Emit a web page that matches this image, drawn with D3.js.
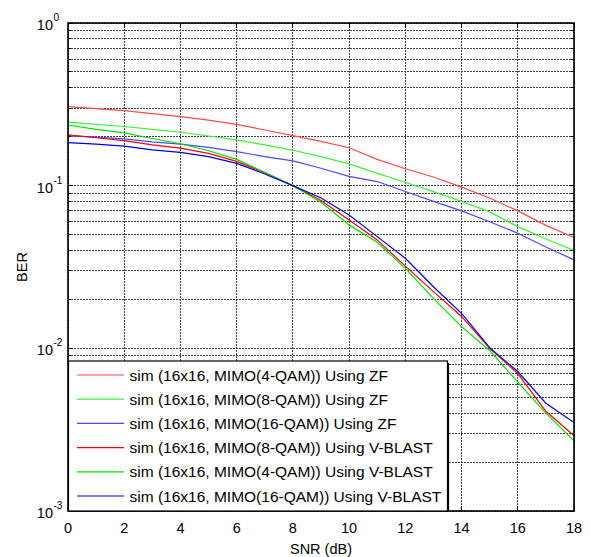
<!DOCTYPE html>
<html>
<head>
<meta charset="utf-8">
<script src="https://cdn.jsdelivr.net/npm/d3@7"></script>
<style>
  html, body { margin: 0; padding: 0; background: #fff; }
  svg { display: block; font-family: Arial, "Liberation Sans", Helvetica, sans-serif; }
</style>
</head>
<body>
<svg id="chart" width="590" height="557"></svg>
<script>
// ---------- data ----------
const snr = [0,1,2,3,4,5,6,7,8,9,10,11,12,13,14,15,16,17,18];
const zf4qam  = [0.306,0.298,0.289,0.277,0.266,0.253,0.238,0.220,0.203,0.187,0.171,0.145,0.127,0.113,0.098,0.084,0.070,0.057,0.048];
const zf8qam  = [0.246,0.238,0.231,0.222,0.213,0.202,0.191,0.178,0.165,0.151,0.136,0.119,0.105,0.092,0.080,0.069,0.056,0.047,0.040];
const zf16qam = [0.203,0.199,0.194,0.186,0.180,0.172,0.162,0.151,0.142,0.128,0.114,0.106,0.092,0.080,0.070,0.060,0.051,0.042,0.035];
const vb8qam  = [0.205,0.197,0.189,0.178,0.170,0.158,0.141,0.120,0.100,0.081,0.0615,0.0464,0.032,0.0223,0.0157,0.0100,0.0070,0.0041,0.0029];
const vb4qam  = [0.236,0.222,0.211,0.195,0.181,0.164,0.145,0.121,0.100,0.079,0.0574,0.0449,0.031,0.0203,0.0136,0.0097,0.0062,0.0040,0.0027];
const vb16qam = [0.184,0.180,0.175,0.166,0.160,0.151,0.137,0.118,0.100,0.084,0.066,0.0486,0.0358,0.0239,0.0164,0.0101,0.0072,0.0046,0.0035];

const seriesNames = [
  "sim (16x16, MIMO(4-QAM)) Using ZF",
  "sim (16x16, MIMO(8-QAM)) Using ZF",
  "sim (16x16, MIMO(16-QAM)) Using ZF",
  "sim (16x16, MIMO(8-QAM)) Using V-BLAST",
  "sim (16x16, MIMO(4-QAM)) Using V-BLAST",
  "sim (16x16, MIMO(16-QAM)) Using V-BLAST"
];
const seriesValues = [zf4qam, zf8qam, zf16qam, vb8qam, vb4qam, vb16qam];
const seriesColors = ["#ff4a4a", "#3cf03c", "#4a4aff", "#ff0000", "#00e000", "#0000e6"];

const xTicks = [0,2,4,6,8,10,12,14,16,18];
const yDecades = [-3,-2,-1,0];
const xLabel = "SNR (dB)";
const yLabel = "BER";

// ---------- layout ----------
const svg = d3.select("#chart");
const L = 68, R = 574, T = 23, B = 511;
const x = d3.scaleLinear().domain([0, 18]).range([L, R]);
const y = d3.scaleLog().domain([1e-3, 1]).range([B, T]);

// grid
const grid = svg.append("g");
const minorVals = [];
for (let e = -3; e < 0; e++) for (let m = 1; m <= 9; m++) minorVals.push(m * Math.pow(10, e));
minorVals.push(1);
grid.selectAll("line.h").data(minorVals).join("line")
  .attr("x1", L).attr("x2", R)
  .attr("y1", d => y(d)).attr("y2", d => y(d))
  .attr("stroke", "#444").attr("stroke-width", 1)
  .attr("stroke-dasharray", "2,1").attr("shape-rendering", "crispEdges");
grid.selectAll("line.v").data(xTicks).join("line")
  .attr("y1", T).attr("y2", B)
  .attr("x1", d => x(d)).attr("x2", d => x(d))
  .attr("stroke", "#444").attr("stroke-width", 1)
  .attr("stroke-dasharray", "2,1").attr("shape-rendering", "crispEdges");

// ticks (inside)
const tk = svg.append("g").attr("stroke", "#000").attr("stroke-width", 1).attr("shape-rendering", "crispEdges");
xTicks.forEach(v => {
  tk.append("line").attr("x1", x(v)).attr("x2", x(v)).attr("y1", B).attr("y2", B - 5);
  tk.append("line").attr("x1", x(v)).attr("x2", x(v)).attr("y1", T).attr("y2", T + 5);
});
minorVals.forEach(v => {
  const isMajor = Math.abs(Math.log10(v) - Math.round(Math.log10(v))) < 1e-9;
  const len = isMajor ? 5 : 3;
  tk.append("line").attr("x1", L).attr("x2", L + len).attr("y1", y(v)).attr("y2", y(v));
  tk.append("line").attr("x1", R).attr("x2", R - len).attr("y1", y(v)).attr("y2", y(v));
});

// lines
const line = d3.line().x((d, i) => x(snr[i])).y(d => y(d));
seriesValues.forEach((vals, k) => {
  svg.append("path").datum(vals)
    .attr("d", line)
    .attr("fill", "none")
    .attr("stroke", seriesColors[k])
    .attr("stroke-width", 1.2);
});

// box
svg.append("rect").attr("x", L).attr("y", T).attr("width", R - L).attr("height", B - T)
  .attr("fill", "none").attr("stroke", "#000").attr("stroke-width", 1.6);

// x tick labels
svg.append("g").selectAll("text").data(xTicks).join("text")
  .attr("x", d => x(d)).attr("y", 533)
  .attr("text-anchor", "middle").attr("font-size", 14.5).attr("fill", "#000")
  .text(d => d);

// y tick labels (10^e)
const yl = svg.append("g");
yDecades.forEach(e => {
  const yy = y(Math.pow(10, e));
  yl.append("text").attr("x", 53).attr("y", yy + 7)
    .attr("text-anchor", "end").attr("font-size", 14.5).attr("fill", "#000").text("10");
  yl.append("text").attr("x", 53.5).attr("y", yy - 2)
    .attr("text-anchor", "start").attr("font-size", 10).attr("fill", "#000").text(String(e));
});

// axis labels
svg.append("text").attr("x", (L + R) / 2).attr("y", 554)
  .attr("text-anchor", "middle").attr("font-size", 14.5).attr("fill", "#000").text(xLabel);
svg.append("text").attr("transform", `translate(27,${(T + B) / 2}) rotate(-90)`)
  .attr("text-anchor", "middle").attr("font-size", 14.5).attr("fill", "#000").text(yLabel);

// legend
const lg = svg.append("g");
const lgX = 68.5, lgY = 361, lgW = 379, lgH = 150;
lg.append("rect").attr("x", lgX).attr("y", lgY).attr("width", lgW).attr("height", lgH)
  .attr("fill", "#fff").attr("stroke", "#000").attr("stroke-width", 1.2);
lg.append("line").attr("x1", lgX + lgW + 1).attr("x2", lgX + lgW + 1).attr("y1", lgY + 2).attr("y2", lgY + lgH)
  .attr("stroke", "#000").attr("stroke-width", 1.2);
seriesNames.forEach((name, k) => {
  const cy = 375 + k * 24.2;
  lg.append("line").attr("x1", 77).attr("x2", 124).attr("y1", cy).attr("y2", cy)
    .attr("stroke", seriesColors[k]).attr("stroke-width", 1.2);
  lg.append("text").attr("x", 129.5).attr("y", cy + 5.5)
    .attr("font-size", 15.5).attr("fill", "#000").text(name);
});
</script>
</body>
</html>
